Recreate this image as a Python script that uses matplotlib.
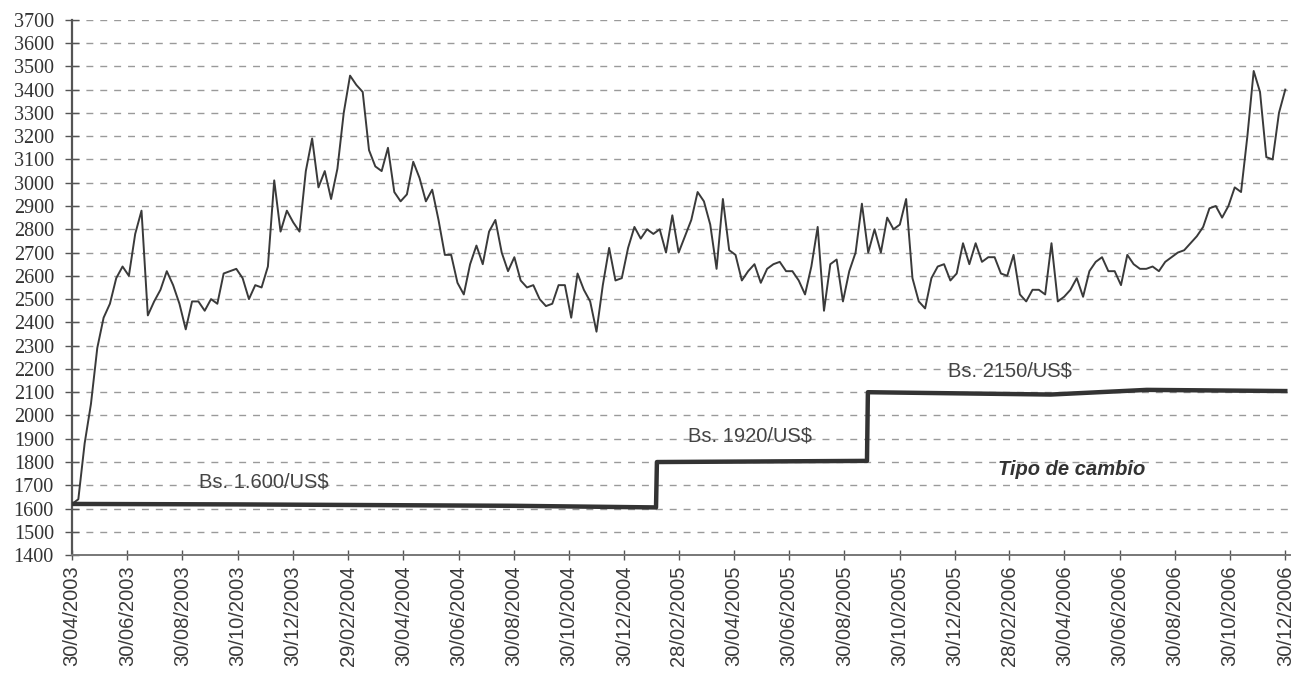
import numpy as np
import pandas as pd
import matplotlib
matplotlib.use("Agg")
import matplotlib.pyplot as plt

################################################################################
# DATOS

# serie semanal (aprox.) entre 30/04/2003 y 30/12/2006
serie_2003 = [1620, 1640, 1880, 2050, 2290, 2420, 2480, 2590, 2640, 2600,
              2780, 2880, 2430, 2490, 2540, 2620, 2560, 2480, 2370, 2490,
              2490, 2450, 2500, 2480, 2610, 2620, 2630, 2590, 2500, 2560,
              2550, 2640, 3010, 2790, 2880]
serie_2004 = [2830, 2790, 3050, 3190, 2980, 3050, 2930, 3060, 3300, 3460,
              3420, 3390, 3140, 3070, 3050, 3150, 2960, 2920, 2950, 3090,
              3020, 2920, 2970, 2840, 2690, 2690, 2570, 2520, 2650, 2730,
              2650, 2790, 2840, 2700, 2620, 2680, 2580, 2550, 2560, 2500,
              2470, 2480, 2560, 2560, 2420, 2610, 2540, 2490, 2360, 2560,
              2720, 2580]
serie_2005 = [2590, 2720, 2810, 2760, 2800, 2780, 2800, 2700, 2860, 2700,
              2770, 2840, 2960, 2920, 2820, 2630, 2930, 2710, 2690, 2580,
              2620, 2650, 2570, 2630, 2650, 2660, 2620, 2620, 2580, 2520,
              2640, 2810, 2450, 2650, 2670, 2490, 2620, 2700, 2910, 2700,
              2800, 2700, 2850, 2800, 2820, 2930, 2590, 2490, 2460, 2590,
              2640, 2650, 2580]
serie_2006 = [2610, 2740, 2650, 2740, 2660, 2680, 2680, 2610, 2600, 2690,
              2520, 2490, 2540, 2540, 2520, 2740, 2490, 2510, 2540, 2590,
              2510, 2620, 2660, 2680, 2620, 2620, 2560, 2690, 2650, 2630,
              2630, 2640, 2620, 2660, 2680, 2700, 2710, 2740, 2770, 2810,
              2890, 2900, 2850, 2900, 2980, 2960, 3200, 3480, 3390, 3110,
              3100, 3300, 3400]

# tipo de cambio oficial
tc_fechas = ['2003-04-30', '2003-10-30', '2004-08-30', '2005-02-03',
             '2005-02-04', '2005-09-24', '2005-09-25', '2006-04-15',
             '2006-07-30', '2006-12-30']
tc_valores = [1620, 1618, 1612, 1605, 1800, 1805, 2100, 2090, 2110, 2105]

etiquetas_x = ['30/04/2003', '30/06/2003', '30/08/2003', '30/10/2003',
               '30/12/2003', '29/02/2004', '30/04/2004', '30/06/2004',
               '30/08/2004', '30/10/2004', '30/12/2004', '28/02/2005',
               '30/04/2005', '30/06/2005', '30/08/2005', '30/10/2005',
               '30/12/2005', '28/02/2006', '30/04/2006', '30/06/2006',
               '30/08/2006', '30/10/2006', '30/12/2006']
ticks_y = list(range(1400, 3800, 100))

################################################################################
# GRAFICO

valores = serie_2003 + serie_2004 + serie_2005 + serie_2006
fechas = pd.date_range('2003-04-30', '2006-12-30', periods=len(valores))
tc_f = pd.to_datetime(tc_fechas)
ticks_x = pd.to_datetime(etiquetas_x, format='%d/%m/%Y')

fig = plt.figure(figsize=(12.95, 6.82), dpi=100)
ax = fig.add_axes([0.0556, 0.186, 0.9404, 0.785])

for v in ticks_y[1:]:
    ax.axhline(v, color='#9a9a9a', lw=1.0, ls=(0, (5, 5)), zorder=1)

ax.plot(fechas, valores, color='#3a3a3a', lw=1.4, zorder=3)
ax.plot(tc_f, tc_valores, color='#333333', lw=3.2, zorder=3)

ax.tick_params(axis='y', direction='inout', length=10, width=1, pad=8,
               colors='#555555', labelcolor='#333333')
ax.tick_params(axis='x', direction='inout', length=7, width=1, pad=4,
               colors='#555555', labelcolor='#3a3a3a')

ax.set_ylim(1400, 3700)
ax.set_yticks(ticks_y)
ax.set_yticklabels([str(v) for v in ticks_y])
ax.set_xlim(pd.Timestamp('2003-04-30'), pd.Timestamp('2007-01-04'))
ax.set_xticks(ticks_x)
ax.set_xticklabels(etiquetas_x, rotation=90)

for lab in ax.get_yticklabels():
    lab.set_fontfamily(['Liberation Serif', 'DejaVu Serif'])
    lab.set_fontsize(14.5)
    lab.set_color('#333333')
for lab in ax.get_xticklabels():
    lab.set_fontfamily(['Liberation Sans', 'DejaVu Sans'])
    lab.set_fontsize(14.5)
    lab.set_color('#3a3a3a')

for s in ['top', 'right']:
    ax.spines[s].set_visible(False)
ax.spines['left'].set_color('#555555')
ax.spines['left'].set_linewidth(1.6)
ax.spines['bottom'].set_color('#777777')
ax.spines['bottom'].set_linewidth(1.4)

txt = dict(family='Liberation Sans', fontsize=14.5, color='#444444',
           ha='center', va='center', zorder=4)
ax.text(pd.Timestamp('2003-11-28'), 1715, 'Bs. 1.600/US$', **txt)
ax.text(pd.Timestamp('2005-05-18'), 1910, 'Bs. 1920/US$', **txt)
ax.text(pd.Timestamp('2006-03-01'), 2190, 'Bs. 2150/US$', **txt)
ax.text(pd.Timestamp('2006-05-08'), 1770, 'Tipo de cambio', family='Liberation Sans',
        fontsize=14.5, color='#333333', style='italic', weight='bold',
        ha='center', va='center', zorder=4)

plt.savefig('out.png', dpi=100)
